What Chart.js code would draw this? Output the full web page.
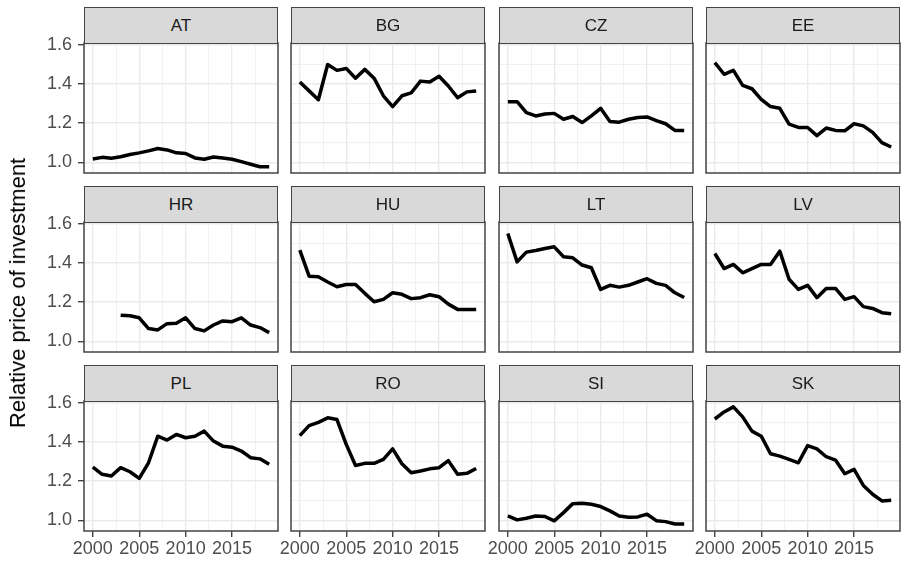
<!DOCTYPE html>
<html>
<head>
<meta charset="utf-8">
<script src="https://cdn.jsdelivr.net/npm/chart.js@4.4.1/dist/chart.umd.min.js"></script>
<style>
    body { margin: 0; background: #fff; font-family: "Liberation Sans", Arial, sans-serif; }
    #wrap { position: relative; width: 901px; height: 564px; overflow: hidden; }
    .panel { position: absolute; }
    .strip {
        position: absolute; box-sizing: border-box; z-index: 2;
        background: #D9D9D9; border: 1.5px solid #444; color: #1A1A1A;
        font-size: 17px; display: flex; align-items: center; justify-content: center;
    }
    #ytitle {
        position: absolute; left: 18px; top: 293px; z-index: 2;
        transform: translate(-50%, -50%) rotate(-90deg);
        white-space: nowrap; font-size: 22px; color: #000;
    }
</style>
</head>
<body>
<div id="wrap">
    <div id="ytitle">Relative price of investment</div>
</div>
<script>
// Relative price of investment by country, 2000-2019
const years = [2000, 2001, 2002, 2003, 2004, 2005, 2006, 2007, 2008, 2009,
               2010, 2011, 2012, 2013, 2014, 2015, 2016, 2017, 2018, 2019];
const countries = ['AT', 'BG', 'CZ', 'EE', 'HR', 'HU', 'LT', 'LV', 'PL', 'RO', 'SI', 'SK'];

const AT = [1.017, 1.025, 1.020, 1.028, 1.040, 1.048, 1.058, 1.070, 1.063, 1.048,
            1.045, 1.022, 1.015, 1.027, 1.022, 1.015, 1.003, 0.990, 0.977, 0.977];
const BG = [1.410, 1.365, 1.320, 1.500, 1.470, 1.480, 1.430, 1.475, 1.430, 1.340,
            1.285, 1.340, 1.355, 1.415, 1.410, 1.440, 1.390, 1.330, 1.360, 1.365];
const CZ = [1.310, 1.310, 1.254, 1.237, 1.247, 1.250, 1.220, 1.234, 1.203, 1.237,
            1.276, 1.208, 1.205, 1.220, 1.229, 1.232, 1.213, 1.197, 1.163, 1.163];
const EE = [1.510, 1.450, 1.470, 1.393, 1.376, 1.322, 1.285, 1.276, 1.195, 1.178,
            1.178, 1.136, 1.175, 1.163, 1.161, 1.197, 1.186, 1.153, 1.100, 1.078];
const HR = [null, null, null, 1.133, 1.130, 1.120, 1.065, 1.058, 1.090, 1.092,
            1.120, 1.065, 1.053, 1.083, 1.104, 1.100, 1.120, 1.083, 1.070, 1.044];
const HU = [1.466, 1.333, 1.330, 1.303, 1.279, 1.290, 1.290, 1.245, 1.202, 1.214,
            1.248, 1.240, 1.218, 1.223, 1.238, 1.228, 1.190, 1.163, 1.162, 1.162];
const LT = [1.551, 1.406, 1.456, 1.464, 1.474, 1.483, 1.432, 1.427, 1.390, 1.376,
            1.265, 1.286, 1.277, 1.286, 1.303, 1.320, 1.296, 1.286, 1.248, 1.224];
const LV = [1.449, 1.372, 1.393, 1.350, 1.371, 1.393, 1.393, 1.461, 1.317, 1.265,
            1.286, 1.223, 1.270, 1.270, 1.214, 1.228, 1.177, 1.168, 1.146, 1.141];
const PL = [1.272, 1.235, 1.226, 1.269, 1.248, 1.214, 1.294, 1.430, 1.410, 1.439,
            1.422, 1.430, 1.456, 1.405, 1.379, 1.374, 1.354, 1.320, 1.314, 1.286];
const RO = [1.433, 1.484, 1.501, 1.524, 1.515, 1.388, 1.280, 1.291, 1.291, 1.311,
            1.365, 1.289, 1.243, 1.252, 1.263, 1.269, 1.305, 1.235, 1.240, 1.265];
const SI = [1.022, 1.002, 1.010, 1.022, 1.019, 0.997, 1.039, 1.085, 1.087, 1.082,
            1.070, 1.048, 1.022, 1.015, 1.017, 1.031, 0.998, 0.993, 0.981, 0.981];
const SK = [1.518, 1.554, 1.580, 1.529, 1.456, 1.430, 1.340, 1.328, 1.311, 1.294,
            1.382, 1.365, 1.325, 1.308, 1.238, 1.260, 1.178, 1.133, 1.099, 1.102];

const seriesByCountry = { AT, BG, CZ, EE, HR, HU, LT, LV, PL, RO, SI, SK };

// tick positions (major ones get labels)
const yMajor = [1.0, 1.2, 1.4, 1.6];
const yMinor = [1.1, 1.3, 1.5];
const xMajor = [2000, 2005, 2010, 2015];
const xMinor = [2002.5, 2007.5, 2012.5, 2017.5];

// layout of the facet grid
const colLeft = [84, 291, 499, 706];
const rowTop = [43, 222, 401];
const panelW = 194;
const plotH = 130;
const stripH = 36;
const axisW = 60;
const axisH = 40;
const padTop = 10;
const padRight = 20;

const fontFamily = '"Liberation Sans", Arial, sans-serif';

const panelBorder = {
    id: 'panelBorder',
    afterDraw(chart) {
        const { ctx, chartArea: a } = chart;
        ctx.save();
        ctx.strokeStyle = '#444';
        ctx.lineWidth = 1.5;
        ctx.strokeRect(a.left, a.top, a.right - a.left, a.bottom - a.top);
        ctx.restore();
    }
};

function isMinor(ctx, list) {
    return ctx.tick && list.includes(ctx.tick.value);
}

function makePanel(code, idx) {
    const col = idx % 4;
    const row = Math.floor(idx / 4);
    const showY = col === 0;
    const showX = row === 2;
    const wrap = document.getElementById('wrap');

    const box = document.createElement('div');
    box.className = 'panel';
    box.style.left = (colLeft[col] - axisW) + 'px';
    box.style.top = (rowTop[row] - padTop) + 'px';
    const canvas = document.createElement('canvas');
    canvas.width = panelW + axisW + padRight;
    canvas.height = plotH + padTop + axisH;
    box.appendChild(canvas);
    wrap.appendChild(box);

    const strip = document.createElement('div');
    strip.className = 'strip';
    strip.style.left = colLeft[col] + 'px';
    strip.style.top = (rowTop[row] - stripH) + 'px';
    strip.style.width = panelW + 'px';
    strip.style.height = (stripH + 1) + 'px';
    strip.textContent = code;
    wrap.appendChild(strip);

    const values = seriesByCountry[code];

    new Chart(canvas, {
        type: 'line',
        data: {
            datasets: [{
                data: years.map((yr, i) => ({ x: yr, y: values[i] })),
                borderColor: '#000',
                borderWidth: 3.5,
                borderJoinStyle: 'round',
                pointRadius: 0,
                tension: 0,
                fill: false
            }]
        },
        options: {
            responsive: false,
            animation: false,
            layout: { padding: { top: padTop, right: padRight, left: 0, bottom: 0 } },
            plugins: {
                legend: { display: false },
                tooltip: { enabled: false }
            },
            scales: {
                x: {
                    type: 'linear',
                    min: 1999.05,
                    max: 2019.95,
                    afterBuildTicks: s => { s.ticks = xMajor.concat(xMinor).sort((a, b) => a - b).map(v => ({ value: v })); },
                    afterFit: s => { s.height = axisH; s.paddingLeft = 0; s.paddingRight = 0; },
                    border: { display: false },
                    grid: {
                        color: '#EBEBEB',
                        lineWidth: ctx => isMinor(ctx, xMinor) ? 0.7 : 1.4,
                        drawTicks: showX,
                        tickLength: 6,
                        tickWidth: 1.4,
                        tickColor: ctx => isMinor(ctx, xMinor) ? 'rgba(0,0,0,0)' : '#444'
                    },
                    ticks: {
                        display: showX,
                        autoSkip: false,
                        maxRotation: 0,
                        padding: 1,
                        color: '#4D4D4D',
                        font: { size: 18, family: fontFamily },
                        callback: v => xMajor.includes(v) ? String(v) : ''
                    }
                },
                y: {
                    min: 0.945,
                    max: 1.61,
                    afterBuildTicks: s => { s.ticks = yMajor.concat(yMinor).sort((a, b) => a - b).map(v => ({ value: v })); },
                    afterFit: s => { s.width = axisW; s.paddingTop = 0; s.paddingBottom = 0; },
                    border: { display: false },
                    grid: {
                        color: '#EBEBEB',
                        lineWidth: ctx => isMinor(ctx, yMinor) ? 0.7 : 1.4,
                        drawTicks: showY,
                        tickLength: 6,
                        tickWidth: 1.4,
                        tickColor: ctx => isMinor(ctx, yMinor) ? 'rgba(0,0,0,0)' : '#444'
                    },
                    ticks: {
                        display: showY,
                        padding: 6,
                        color: '#4D4D4D',
                        font: { size: 18, family: fontFamily },
                        callback: v => yMajor.includes(v) ? v.toFixed(1) : ''
                    }
                }
            }
        },
        plugins: [panelBorder]
    });
}

countries.forEach(makePanel);
</script>
</body>
</html>
